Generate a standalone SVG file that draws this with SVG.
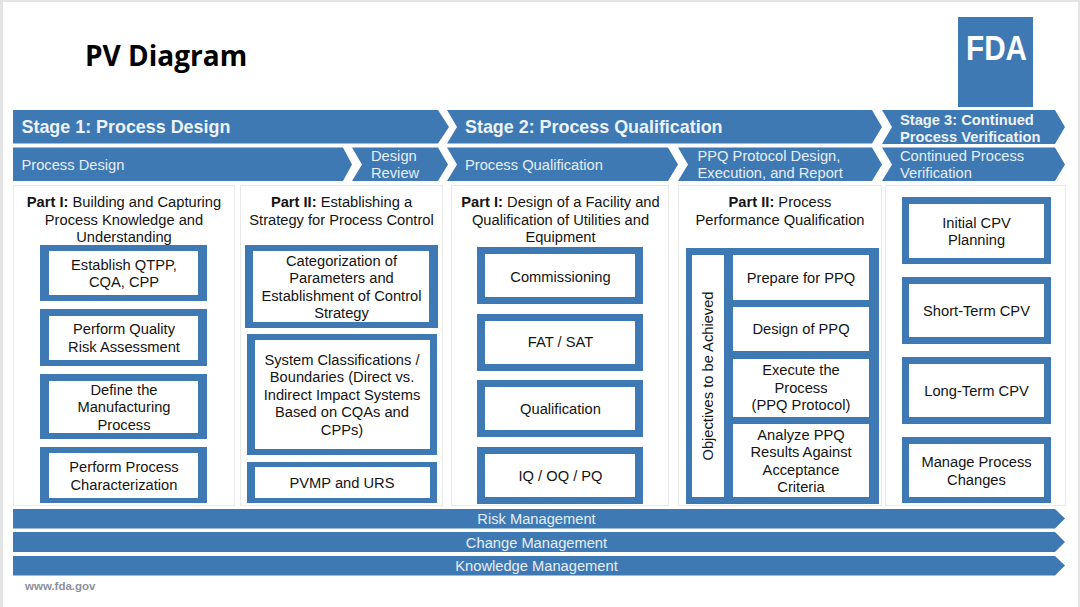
<svg xmlns="http://www.w3.org/2000/svg" width="1080" height="607" viewBox="0 0 1080 607">
<style>
text{font-family:"Liberation Sans",Arial,sans-serif;font-size:14.7px;fill:#141414;text-anchor:middle}
g[id^=n-] text,g[id^=panel] text{transform:translateY(-.5px)}
.bar{fill:#3f79b4}
.box{fill:#3f79b4}
.in{fill:#fff}
.panel{fill:#fff;stroke:#e9e9e9;stroke-width:1}
text.w{fill:#e6eef6;text-anchor:start}
text.c{fill:#e6eef6}
text.st{fill:#eef3f9;text-anchor:start;font-weight:bold;font-size:17.9px}
text.st3{fill:#eef3f9;text-anchor:start;font-weight:bold;font-size:14.7px}
.b{font-weight:bold}
</style>
<rect width="1080" height="607" fill="#e4e4e4"/>
<rect x="3" y="2" width="1075" height="605" fill="#fff"/>
<text id="title" x="85" y="66" style="font-family:'Open Sans','Noto Sans',sans-serif;font-size:28px;font-weight:700;text-anchor:start;fill:#000">PV Diagram</text>
<g id="fda-logo"><rect class="bar" x="958" y="17" width="75" height="90"/><text x="996.500" y="60" textLength="61" lengthAdjust="spacingAndGlyphs" style="font-size:35px;font-weight:bold;fill:#fff">FDA</text></g>

<g id="stage-1"><path class="bar" d="M13 110H438L449 127L438 143.500H13Z"/><text class="st" x="21.500" y="133">Stage 1: Process Design</text></g>
<g id="stage-2"><path class="bar" d="M447 110H872L882 127L872 143.500H447L457 127Z"/><text class="st" x="465" y="133">Stage 2: Process Qualification</text></g>
<g id="stage-3"><path class="bar" d="M882 110H1055L1065 127L1055 144H882L892 127Z"/><text class="st3" x="900" y="124.500">Stage 3: Continued</text><text class="st3" x="900" y="142">Process Verification</text></g>

<g id="phase-process-design"><path class="bar" d="M13 147.500H343L352 164.500L343 181H13Z"/><text class="w" x="21.500" y="170">Process Design</text></g>
<g id="phase-design-review"><path class="bar" d="M352 147.500H438L448 164.500L438 181H352L362 164.500Z"/><text class="w" x="371" y="161">Design</text><text class="w" x="371" y="178">Review</text></g>
<g id="phase-process-qualification"><path class="bar" d="M447 147.500H668L678 164.500L668 181H447L457 164.500Z"/><text class="w" x="465" y="170">Process Qualification</text></g>
<g id="phase-ppq"><path class="bar" d="M678 147.500H872L882 164.500L872 181H678L688 164.500Z"/><text class="w" x="697.500" y="161">PPQ Protocol Design,</text><text class="w" x="697.500" y="178">Execution, and Report</text></g>
<g id="phase-cpv"><path class="bar" d="M882 147.500H1055L1065 164.500L1055 181H882L892 164.500Z"/><text class="w" x="900" y="161">Continued Process</text><text class="w" x="900" y="178">Verification</text></g>

<g id="panel-1"><rect class="panel" x="13.500" y="185.500" width="221" height="320"/>
<text x="124" y="207.500"><tspan class="b">Part I:</tspan> Building and Capturing</text><text x="124" y="225">Process Knowledge and</text><text x="124" y="242.500">Understanding</text></g>
<g id="panel-2"><rect class="panel" x="240.500" y="185.500" width="202" height="320"/>
<text x="341.500" y="207.500"><tspan class="b">Part II:</tspan> Establishing a</text><text x="341.500" y="225">Strategy for Process Control</text></g>
<g id="panel-3"><rect class="panel" x="451.500" y="185.500" width="217" height="320"/>
<text x="560.500" y="207.500"><tspan class="b">Part I:</tspan> Design of a Facility and</text><text x="560.500" y="225">Qualification of Utilities and</text><text x="560.500" y="242.500">Equipment</text></g>
<g id="panel-4"><rect class="panel" x="678.500" y="185.500" width="203" height="320"/>
<text x="780" y="207.500"><tspan class="b">Part II:</tspan> Process</text><text x="780" y="225">Performance Qualification</text></g>
<g id="panel-5"><rect class="panel" x="885.500" y="185.500" width="180" height="320"/></g>

<g id="n-qtpp"><rect class="box" x="40" y="245" width="167" height="56"/><rect class="in" x="49" y="251" width="149" height="44"/><text x="124" y="270">Establish QTPP,</text><text x="124" y="287.500">CQA, CPP</text></g>
<g id="n-risk"><rect class="box" x="40" y="309" width="167" height="57"/><rect class="in" x="49" y="316" width="149" height="44"/><text x="124" y="334.500">Perform Quality</text><text x="124" y="352">Risk Assessment</text></g>
<g id="n-define"><rect class="box" x="40" y="374" width="167" height="65"/><rect class="in" x="49" y="381" width="149" height="52"/><text x="124" y="395">Define the</text><text x="124" y="412.500">Manufacturing</text><text x="124" y="430">Process</text></g>
<g id="n-char"><rect class="box" x="40" y="447" width="167" height="56"/><rect class="in" x="49" y="453" width="149" height="45"/><text x="124" y="472">Perform Process</text><text x="124" y="490">Characterization</text></g>

<g id="n-params"><rect class="box" x="245" y="245" width="193" height="83"/><rect class="in" x="253" y="251" width="176" height="71"/><text x="341.500" y="266">Categorization of</text><text x="341.500" y="283.500">Parameters and</text><text x="341.500" y="301">Establishment of Control</text><text x="341.500" y="318.500">Strategy</text></g>
<g id="n-system"><rect class="box" x="247" y="334" width="190" height="121"/><rect class="in" x="255" y="340" width="175" height="109"/><text x="342" y="365">System Classifications /</text><text x="342" y="382.500">Boundaries (Direct vs.</text><text x="342" y="400">Indirect Impact Systems</text><text x="342" y="417.500">Based on CQAs and</text><text x="342" y="435">CPPs)</text></g>
<g id="n-pvmp"><rect class="box" x="247" y="462" width="190" height="41"/><rect class="in" x="255" y="467" width="175" height="31"/><text x="342" y="488.500">PVMP and URS</text></g>

<g id="n-comm"><rect class="box" x="477" y="247" width="166" height="57"/><rect class="in" x="485" y="254" width="150" height="43"/><text x="560.500" y="282">Commissioning</text></g>
<g id="n-fat"><rect class="box" x="477" y="314" width="166" height="57"/><rect class="in" x="485" y="321" width="150" height="43"/><text x="560.500" y="347.500">FAT / SAT</text></g>
<g id="n-qual"><rect class="box" x="477" y="380" width="166" height="57"/><rect class="in" x="485" y="387" width="150" height="43"/><text x="560.500" y="414.500">Qualification</text></g>
<g id="n-iq"><rect class="box" x="477" y="447" width="166" height="57"/><rect class="in" x="485" y="454" width="150" height="43"/><text x="560.500" y="481.500">IQ / OQ / PQ</text></g>

<g id="n-ppq"><rect class="box" x="686" y="248" width="193" height="256"/><rect class="in" x="692" y="255" width="32" height="242"/><g transform="translate(713.500 376) rotate(-90)"><text>Objectives to be Achieved</text></g>
<rect class="in" x="733" y="255" width="136" height="45"/><text x="801" y="283">Prepare for PPQ</text>
<rect class="in" x="733" y="307" width="136" height="44"/><text x="801" y="334.500">Design of PPQ</text>
<rect class="in" x="733" y="359" width="136" height="58"/><text x="801" y="375.500">Execute the</text><text x="801" y="393">Process</text><text x="801" y="410.500">(PPQ Protocol)</text>
<rect class="in" x="733" y="424" width="136" height="73"/><text x="801" y="440">Analyze PPQ</text><text x="801" y="457.500">Results Against</text><text x="801" y="475">Acceptance</text><text x="801" y="492.500">Criteria</text></g>

<g id="n-initial"><rect class="box" x="902" y="197" width="149" height="67"/><rect class="in" x="909" y="204" width="135" height="54"/><text x="976.500" y="228">Initial CPV</text><text x="976.500" y="245.500">Planning</text></g>
<g id="n-short"><rect class="box" x="902" y="277" width="149" height="67"/><rect class="in" x="909" y="284" width="135" height="53"/><text x="976.500" y="316.500">Short-Term CPV</text></g>
<g id="n-long"><rect class="box" x="902" y="357" width="149" height="67"/><rect class="in" x="909" y="364" width="135" height="53"/><text x="976.500" y="396.500">Long-Term CPV</text></g>
<g id="n-manage"><rect class="box" x="902" y="437" width="149" height="66"/><rect class="in" x="909" y="444" width="135" height="53"/><text x="976.500" y="467.500">Manage Process</text><text x="976.500" y="485">Changes</text></g>

<g id="bar-risk"><path class="bar" d="M13 509H1055L1065 518.500L1055 528.500H13Z"/><text class="c" x="536.500" y="524">Risk Management</text></g>
<g id="bar-change"><path class="bar" d="M13 532H1055L1065 542L1055 552H13Z"/><text class="c" x="536.500" y="547.500">Change Management</text></g>
<g id="bar-knowledge"><path class="bar" d="M13 556H1055L1065 565.500L1055 575.500H13Z"/><text class="c" x="536.500" y="570.500">Knowledge Management</text></g>
<text id="url" x="25" y="590" style="text-anchor:start;font-weight:bold;font-size:11.500px;fill:#8b8f9e">www.fda.gov</text>
</svg>
